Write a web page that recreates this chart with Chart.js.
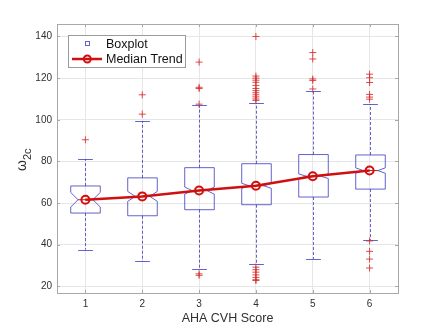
<!DOCTYPE html>
<html lang="en">
  <head>
    <meta charset="UTF-8" />
    <title>AHA CVH Score boxplot</title>
    <script src="https://cdn.jsdelivr.net/npm/chart.js@4.5.0/dist/chart.umd.min.js"></script>
    <style>
      body { margin: 0; background: #fff; }
    </style>
  </head>
  <body>
    <canvas id="myChart" width="440" height="330"></canvas>

    <script>
      // box stats per AHA CVH score
      const scores = [1, 2, 3, 4, 5, 6];
      const medians = [61.6, 63.2, 66.0, 68.3, 72.9, 75.6];
      const q1 = [55.2, 53.9, 56.8, 59.2, 62.9, 66.7];
      const q3 = [68.2, 72.1, 77.0, 78.9, 83.3, 83.1];
      const whiskerLow = [37.6, 32.0, 28.3, 30.5, 33.1, 42.1];
      const whiskerHigh = [81.1, 99.2, 107.0, 108.0, 113.7, 107.4];
      const notchLow = [58.1, 60.8, 64.3, 67.1, 71.8, 74.3];
      const notchHigh = [65.1, 65.6, 67.7, 69.5, 74.0, 76.9];
      const outliers = [
        [90.4],
        [112.0, 102.7],
        [127.7, 115.6, 115.0, 107.5, 26.0, 25.3],
        [140.0, 121.0, 120.0, 119.0, 118.0, 116.5, 115.0, 114.0, 113.0, 112.0, 111.0, 110.0, 109.3,
         29.2, 28.0, 26.8, 25.5, 24.3, 23.2, 22.8],
        [132.3, 129.2, 119.6, 118.9, 114.8],
        [121.9, 120.2, 117.9, 112.2, 110.9, 109.9, 41.8, 36.8, 33.1, 28.8],
      ];
      const yTicks = [20, 40, 60, 80, 100, 120, 140];

      const blue = "rgba(60,60,190,0.8)";
      const red = "#d01010";
      const frame = "#a8a8a8";
      const textCol = "#303030";

      const outlierPts = [];
      outliers.forEach((list, i) => list.forEach((v) => outlierPts.push({ x: scores[i], y: v })));

      const boxPlugin = {
        id: "boxes",
        beforeDatasetsDraw(chart) {
          const { ctx, scales: { x, y } } = chart;
          const hw = x.getPixelForValue(1.26) - x.getPixelForValue(1);
          ctx.save();
          ctx.lineWidth = 1;
          scores.forEach((s, i) => {
            const cx = Math.round(x.getPixelForValue(s)) + 0.5;
            // whiskers
            ctx.strokeStyle = blue;
            ctx.setLineDash([3, 2]);
            ctx.beginPath();
            ctx.moveTo(cx, y.getPixelForValue(q3[i]));
            ctx.lineTo(cx, y.getPixelForValue(whiskerHigh[i]));
            ctx.moveTo(cx, y.getPixelForValue(q1[i]));
            ctx.lineTo(cx, y.getPixelForValue(whiskerLow[i]));
            ctx.stroke();
            ctx.setLineDash([]);
            // caps
            ctx.beginPath();
            [whiskerHigh[i], whiskerLow[i]].forEach((v) => {
              const py = Math.round(y.getPixelForValue(v)) + 0.5;
              ctx.moveTo(cx - hw / 2, py);
              ctx.lineTo(cx + hw / 2, py);
            });
            ctx.stroke();
            // notched box
            const l = cx - hw, r = cx + hw;
            const yq1 = y.getPixelForValue(q1[i]), yq3 = y.getPixelForValue(q3[i]);
            const ynl = y.getPixelForValue(notchLow[i]), ynh = y.getPixelForValue(notchHigh[i]);
            const ym = y.getPixelForValue(medians[i]);
            ctx.beginPath();
            ctx.moveTo(l, yq1);
            ctx.lineTo(l, ynl);
            ctx.lineTo(cx - hw / 2, ym);
            ctx.lineTo(l, ynh);
            ctx.lineTo(l, yq3);
            ctx.lineTo(r, yq3);
            ctx.lineTo(r, ynh);
            ctx.lineTo(cx + hw / 2, ym);
            ctx.lineTo(r, ynl);
            ctx.lineTo(r, yq1);
            ctx.closePath();
            ctx.stroke();
            // median
            ctx.strokeStyle = red;
            ctx.beginPath();
            ctx.moveTo(cx - hw / 2, ym);
            ctx.lineTo(cx + hw / 2, ym);
            ctx.stroke();
          });
          ctx.restore();
        },
        afterDraw(chart) {
          const { ctx, chartArea: a, scales: { x, y } } = chart;
          ctx.save();
          // axes box + inner ticks
          ctx.strokeStyle = frame;
          ctx.lineWidth = 1;
          ctx.strokeRect(Math.round(a.left) + 0.5, Math.round(a.top) + 0.5,
            Math.round(a.right - a.left), Math.round(a.bottom - a.top));
          ctx.beginPath();
          scores.forEach((s) => {
            const px = Math.round(x.getPixelForValue(s)) + 0.5;
            ctx.moveTo(px, a.bottom); ctx.lineTo(px, a.bottom - 3);
            ctx.moveTo(px, a.top); ctx.lineTo(px, a.top + 3);
          });
          yTicks.forEach((v) => {
            const py = Math.round(y.getPixelForValue(v)) + 0.5;
            ctx.moveTo(a.left, py); ctx.lineTo(a.left + 3, py);
            ctx.moveTo(a.right, py); ctx.lineTo(a.right - 3, py);
          });
          ctx.stroke();

          // y axis title: omega with subscript 2c
          ctx.fillStyle = textCol;
          ctx.translate(25.5, 171);
          ctx.rotate(-Math.PI / 2);
          ctx.textBaseline = "alphabetic";
          ctx.font = "14px 'Liberation Sans', Arial, sans-serif";
          ctx.fillText("ω", 0, 0);
          const w = ctx.measureText("ω").width;
          ctx.font = "11px 'Liberation Sans', Arial, sans-serif";
          ctx.fillText("2c", w, 5.5);
          ctx.setTransform(1, 0, 0, 1, 0, 0);

          // legend
          ctx.fillStyle = "#fff";
          ctx.fillRect(68.5, 35.5, 117, 32);
          ctx.strokeStyle = "#9a9a9a";
          ctx.strokeRect(68.5, 35.5, 117, 32);
          ctx.strokeStyle = blue;
          ctx.strokeRect(85.5, 41.5, 4, 4);
          ctx.strokeStyle = red;
          ctx.lineWidth = 2.5;
          ctx.beginPath();
          ctx.moveTo(72, 59);
          ctx.lineTo(102, 59);
          ctx.stroke();
          ctx.lineWidth = 2;
          ctx.beginPath();
          ctx.arc(87.3, 59, 3.5, 0, Math.PI * 2);
          ctx.stroke();
          ctx.fillStyle = "#111";
          ctx.font = "12.5px 'Liberation Sans', Arial, sans-serif";
          ctx.textBaseline = "middle";
          ctx.fillText("Boxplot", 106, 44.5);
          ctx.fillText("Median Trend", 106, 59.5);
          ctx.restore();
        },
      };

      new Chart(document.getElementById("myChart"), {
        type: "line",
        data: {
          datasets: [
            {
              label: "Median Trend",
              data: scores.map((s, i) => ({ x: s, y: medians[i] })),
              borderColor: red,
              borderWidth: 2.5,
              pointRadius: 4,
              pointBorderWidth: 2,
              pointBorderColor: red,
              pointBackgroundColor: "rgba(255,255,255,0)",
              order: 0,
            },
            {
              label: "outliers",
              data: outlierPts,
              showLine: false,
              pointStyle: "cross",
              pointRadius: 3.5,
              pointBorderWidth: 1,
              pointBorderColor: "rgba(215,45,45,0.85)",
              order: 1,
            },
          ],
        },
        options: {
          responsive: false,
          animation: false,
          layout: { padding: { left: 0, top: 24, right: 42, bottom: 0 } },
          plugins: { legend: { display: false }, tooltip: { enabled: false } },
          scales: {
            x: {
              type: "linear",
              min: 0.5,
              max: 6.5,
              afterFit(s) { s.height = 37; },
              afterBuildTicks(s) { s.ticks = scores.map((v) => ({ value: v })); },
              grid: { color: "#e6e6e6", drawTicks: false },
              border: { display: false },
              ticks: {
                padding: 5,
                color: textCol,
                font: { family: "'Liberation Sans', Arial, sans-serif", size: 10 },
              },
              title: {
                display: true,
                text: "AHA CVH Score",
                color: textCol,
                padding: { top: 0, bottom: 3.5 },
                font: { family: "'Liberation Sans', Arial, sans-serif", size: 12.5 },
              },
            },
            y: {
              min: 16.8,
              max: 146,
              afterFit(s) { s.width = 57; },
              afterBuildTicks(s) { s.ticks = yTicks.map((v) => ({ value: v })); },
              grid: { color: "#e6e6e6", drawTicks: false },
              border: { display: false },
              ticks: {
                padding: 5,
                color: textCol,
                font: { family: "'Liberation Sans', Arial, sans-serif", size: 10 },
              },
            },
          },
        },
        plugins: [boxPlugin],
      });
    </script>
  </body>
</html>
